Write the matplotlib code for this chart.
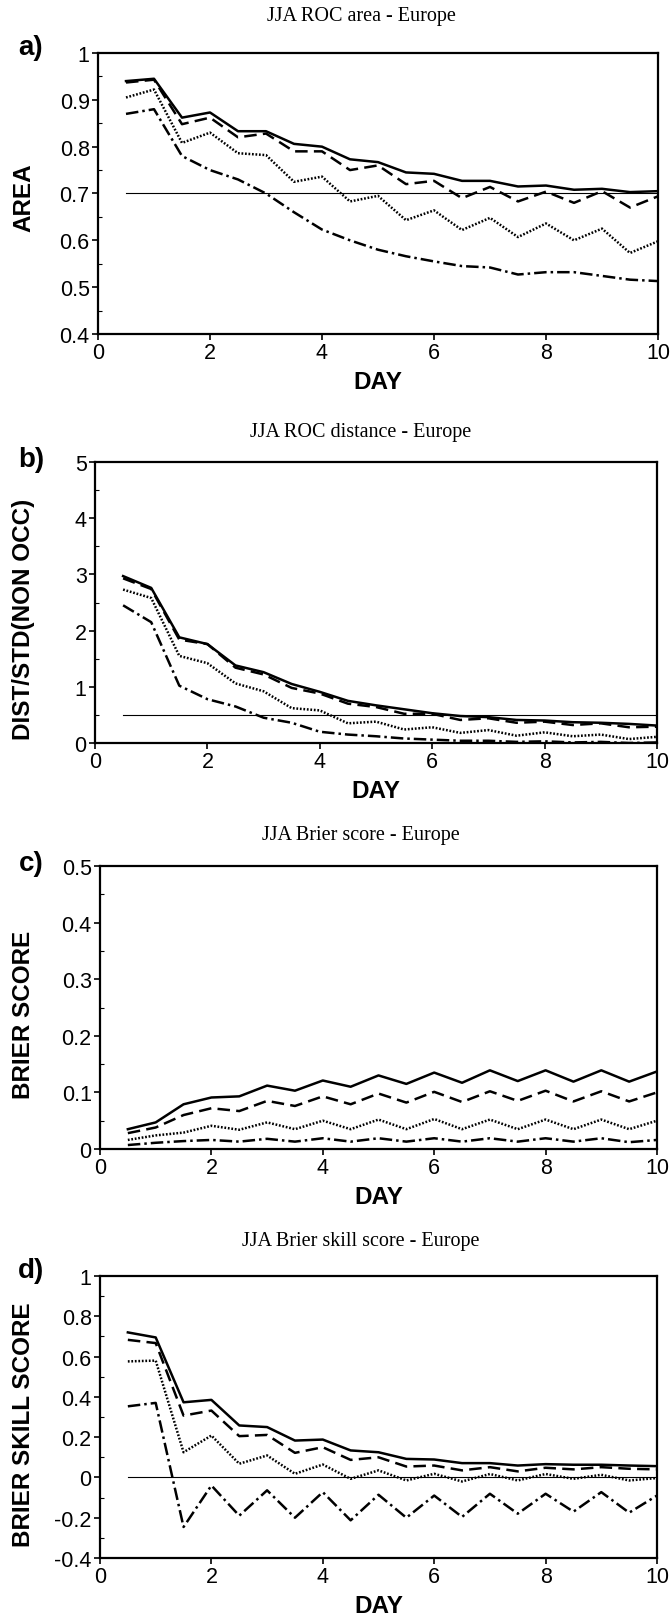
import matplotlib
matplotlib.use("Agg")
import matplotlib.pyplot as plt
from matplotlib.ticker import MultipleLocator

plt.rcParams['font.family'] = ['Liberation Sans', 'DejaVu Sans']

W, H = 670, 1624

# forecast day (12-hourly)
DAY = [0.5, 1.0, 1.5, 2.0, 2.5, 3.0, 3.5, 4.0, 4.5, 5.0,
       5.5, 6.0, 6.5, 7.0, 7.5, 8.0, 8.5, 9.0, 9.5, 10.0]

# a) ROC area
roc_area_solid = [0.940, 0.945, 0.862, 0.873, 0.833, 0.833, 0.806, 0.800, 0.773, 0.767,
                  0.745, 0.742, 0.727, 0.727, 0.715, 0.717, 0.708, 0.710, 0.703, 0.705]
roc_area_dash = [0.937, 0.943, 0.848, 0.862, 0.820, 0.828, 0.790, 0.790, 0.750, 0.760,
                 0.720, 0.727, 0.690, 0.714, 0.683, 0.704, 0.680, 0.705, 0.670, 0.694]
roc_area_dot = [0.905, 0.922, 0.808, 0.830, 0.786, 0.782, 0.725, 0.736, 0.683, 0.695,
                0.643, 0.664, 0.622, 0.648, 0.607, 0.636, 0.600, 0.625, 0.573, 0.598]
roc_area_dashdot = [0.870, 0.880, 0.780, 0.750, 0.730, 0.700, 0.660, 0.623, 0.600, 0.580,
                    0.566, 0.555, 0.545, 0.542, 0.527, 0.532, 0.532, 0.524, 0.516, 0.513]

# b) ROC distance
roc_dist_solid = [2.97, 2.76, 1.88, 1.76, 1.38, 1.26, 1.05, 0.91, 0.75, 0.67,
                  0.60, 0.53, 0.48, 0.46, 0.41, 0.40, 0.37, 0.36, 0.34, 0.31]
roc_dist_dash = [2.93, 2.74, 1.84, 1.76, 1.34, 1.22, 0.98, 0.88, 0.70, 0.64,
                 0.52, 0.52, 0.41, 0.44, 0.36, 0.38, 0.32, 0.35, 0.28, 0.29]
roc_dist_dot = [2.73, 2.58, 1.55, 1.42, 1.06, 0.92, 0.62, 0.58, 0.35, 0.38,
                0.24, 0.28, 0.18, 0.23, 0.13, 0.19, 0.12, 0.15, 0.07, 0.11]
roc_dist_dashdot = [2.45, 2.15, 1.02, 0.78, 0.65, 0.45, 0.36, 0.20, 0.15, 0.12,
                    0.08, 0.06, 0.04, 0.04, 0.02, 0.03, 0.01, 0.02, 0.00, 0.01]

# c) Brier score
bs_solid = [0.035, 0.047, 0.079, 0.091, 0.093, 0.112, 0.103, 0.121, 0.110, 0.130,
            0.115, 0.135, 0.117, 0.139, 0.120, 0.139, 0.119, 0.139, 0.119, 0.137]
bs_dash = [0.028, 0.038, 0.060, 0.072, 0.067, 0.085, 0.076, 0.093, 0.079, 0.098,
           0.082, 0.101, 0.083, 0.102, 0.085, 0.103, 0.084, 0.102, 0.084, 0.100]
bs_dot = [0.016, 0.024, 0.029, 0.041, 0.034, 0.047, 0.035, 0.050, 0.035, 0.052,
          0.035, 0.053, 0.035, 0.052, 0.035, 0.052, 0.035, 0.052, 0.035, 0.050]
bs_dashdot = [0.007, 0.011, 0.014, 0.016, 0.013, 0.018, 0.013, 0.019, 0.013, 0.019,
              0.013, 0.019, 0.013, 0.019, 0.013, 0.019, 0.013, 0.019, 0.012, 0.016]

# d) Brier skill score
bss_solid = [0.720, 0.695, 0.373, 0.385, 0.258, 0.250, 0.183, 0.188, 0.134, 0.125,
             0.092, 0.089, 0.071, 0.071, 0.059, 0.066, 0.063, 0.063, 0.059, 0.056]
bss_dash = [0.683, 0.667, 0.307, 0.332, 0.205, 0.211, 0.122, 0.150, 0.087, 0.100,
            0.054, 0.059, 0.035, 0.051, 0.030, 0.048, 0.040, 0.051, 0.043, 0.040]
bss_dot = [0.576, 0.580, 0.125, 0.208, 0.068, 0.109, 0.018, 0.064, -0.007, 0.035,
           -0.015, 0.018, -0.020, 0.017, -0.015, 0.017, -0.007, 0.013, -0.015, -0.003]
bss_dashdot = [0.353, 0.370, -0.246, -0.040, -0.190, -0.064, -0.200, -0.073, -0.213, -0.086,
               -0.200, -0.090, -0.196, -0.081, -0.180, -0.081, -0.170, -0.073, -0.175, -0.090]

TITLES = ["JJA ROC area - Europe", "JJA ROC distance - Europe",
          "JJA Brier score - Europe", "JJA Brier skill score - Europe"]
LETTERS = ["a)", "b)", "c)", "d)"]
YLABELS = ["AREA", "DIST/STD(NON OCC)", "BRIER SCORE", "BRIER SKILL SCORE"]
SERIES = [
    (roc_area_solid, roc_area_dash, roc_area_dot, roc_area_dashdot),
    (roc_dist_solid, roc_dist_dash, roc_dist_dot, roc_dist_dashdot),
    (bs_solid, bs_dash, bs_dot, bs_dashdot),
    (bss_solid, bss_dash, bss_dot, bss_dashdot),
]
YLIMS = [(0.4, 1.0), (0, 5), (0, 0.5), (-0.4, 1.0)]
YSTEPS = [0.1, 1, 0.1, 0.2]
REF_LINES = [0.7, 0.5, None, 0.0]

# pixel boxes: left, right, top, bottom
BOXES = [(98, 658, 54, 335), (95, 657, 463, 744),
         (100, 657, 867, 1150), (100, 657, 1277, 1559)]
TITLE_Y = [16, 432, 836, 1242]
LETTER_Y = [48, 460, 864, 1271]
YLABEL_SHIFT = [3, 16, 6, 7]

STYLES = [
    dict(ls='-', lw=1.8),
    dict(ls=(0, (5, 2.5)), lw=1.8),
    dict(ls=(0, (0.7, 0.7)), lw=1.8),
    dict(ls=(0, (5, 1.6, 1, 1.6)), lw=1.8),
]

fig = plt.figure(figsize=(W / 100, H / 100), dpi=100)

for i in range(4):
    l, r, t, b = BOXES[i]
    ax = fig.add_axes([l / W, 1 - b / H, (r - l) / W, (b - t) / H])

    for vals, st in zip(SERIES[i], STYLES):
        ax.plot(DAY, vals, color='black', **st)

    if REF_LINES[i] is not None:
        ax.plot([0.5, 10], [REF_LINES[i], REF_LINES[i]], color='black', lw=0.8)

    ax.set_xlim(0, 10)
    ax.set_ylim(*YLIMS[i])
    ax.xaxis.set_major_locator(MultipleLocator(2))
    ax.yaxis.set_major_locator(MultipleLocator(YSTEPS[i]))
    ax.yaxis.set_minor_locator(MultipleLocator(YSTEPS[i] / 2))
    ax.xaxis.set_major_formatter(plt.FuncFormatter(lambda v, p: f"{v:g}"))
    ax.yaxis.set_major_formatter(plt.FuncFormatter(lambda v, p: f"{v:g}"))
    ax.tick_params(which='major', direction='out', length=4, width=1.2,
                   labelsize=15.5, pad=2)
    ax.tick_params(which='minor', direction='in', length=3, width=0.8)
    for sp in ax.spines.values():
        sp.set_linewidth(1.6)

    h_px = b - t
    ax.set_xlabel("DAY", fontsize=17.5, fontweight='bold')
    ax.xaxis.set_label_coords(0.5, -48 / h_px)
    ax.xaxis.label.set_va('center')

    ax.set_ylabel(YLABELS[i], fontsize=17.5, fontweight='bold')
    ax.yaxis.set_label_coords((24 - l) / (r - l), 0.5 - YLABEL_SHIFT[i] / h_px)
    ax.yaxis.label.set_va('center')

    fig.text(361 / W, 1 - TITLE_Y[i] / H, TITLES[i], ha='center', va='center',
             fontsize=14.5, family='Liberation Serif')
    fig.text(31 / W, 1 - LETTER_Y[i] / H, LETTERS[i], ha='center', va='center',
             fontsize=20, fontweight='bold')

fig.savefig("out.png", dpi=100)
